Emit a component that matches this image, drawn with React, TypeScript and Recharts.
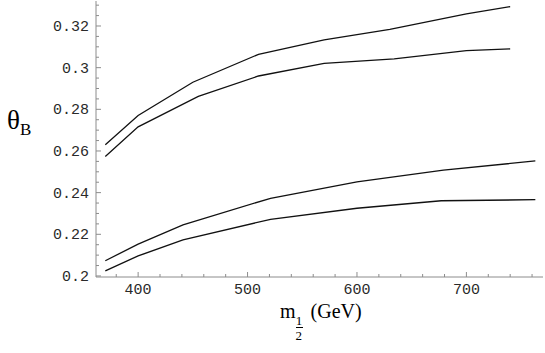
import { LineChart, Line, XAxis, YAxis } from 'recharts'

// m_1/2 (GeV) positions and theta_B values for the four curves
const xUpperA = [370, 400, 450, 510, 570, 630, 700, 740]
const thetaUpperA = [0.263, 0.277, 0.293, 0.3064, 0.3133, 0.3184, 0.3258, 0.3293]

const xUpperB = [370, 400, 455, 510, 570, 634, 700, 740]
const thetaUpperB = [0.2573, 0.2716, 0.2862, 0.296, 0.3021, 0.3042, 0.3082, 0.309]

const xLowerA = [370, 400, 441, 521, 600, 679, 763]
const thetaLowerA = [0.2073, 0.2153, 0.2245, 0.2373, 0.2452, 0.2508, 0.2552]

const xLowerB = [370, 400, 441, 521, 600, 677, 763]
const thetaLowerB = [0.2024, 0.2096, 0.2173, 0.2272, 0.2325, 0.2361, 0.2366]

const xMajor = [400, 500, 600, 700]
const xMinor = [380, 420, 440, 460, 480, 520, 540, 560, 580, 620, 640, 660, 680, 720, 740, 760]
const yMajor = [0.2, 0.22, 0.24, 0.26, 0.28, 0.3, 0.32]
const yMinor = [0.205, 0.21, 0.215, 0.225, 0.23, 0.235, 0.245, 0.25, 0.255, 0.265, 0.27, 0.275,
  0.285, 0.29, 0.295, 0.305, 0.31, 0.315, 0.325, 0.33]

const toPoints = (xs: number[], ys: number[]) => xs.map((x, i) => ({ x, y: ys[i] }))

const frame = '#8c8c8c'
const mono = '"Liberation Mono", "DejaVu Sans Mono", monospace'
const serif = '"Liberation Serif", "DejaVu Serif", serif'
const isMajor = (v: number, list: number[]) => list.some(m => Math.abs(m - v) < 1e-9)

const BottomTick = (p: any) => {
  const major = isMajor(p.payload.value, xMajor)
  return (
    <g>
      <line x1={p.x} x2={p.x} y1={p.y} y2={p.y - (major ? 5 : 3)} stroke={frame} />
      {major && (
        <text x={p.x} y={p.y + 17} textAnchor="middle" fontFamily={mono} fontSize={15} fill="#2a2a2a">
          {p.payload.value}
        </text>
      )}
    </g>
  )
}

const TopTick = (p: any) => {
  const major = isMajor(p.payload.value, xMajor)
  return <line x1={p.x} x2={p.x} y1={p.y} y2={p.y + (major ? 5 : 3)} stroke={frame} />
}

const LeftTick = (p: any) => {
  const major = isMajor(p.payload.value, yMajor)
  return (
    <g>
      <line x1={p.x} x2={p.x + (major ? 5 : 3)} y1={p.y} y2={p.y} stroke={frame} />
      {major && (
        <text x={p.x - 7} y={p.y + 5} textAnchor="end" fontFamily={mono} fontSize={15} fill="#2a2a2a">
          {String(p.payload.value)}
        </text>
      )}
    </g>
  )
}

const RightTick = (p: any) => {
  const major = isMajor(p.payload.value, yMajor)
  return <line x1={p.x} x2={p.x - (major ? 5 : 3)} y1={p.y} y2={p.y} stroke={frame} />
}

const xTicks = [...xMajor, ...xMinor].sort((a, b) => a - b)
const yTicks = [...yMajor, ...yMinor].sort((a, b) => a - b)
const xDomain: [number, number] = [361.5, 770]
const yDomain: [number, number] = [0.1995, 0.332]

export default function App() {
  const series = [
    toPoints(xUpperA, thetaUpperA),
    toPoints(xUpperB, thetaUpperB),
    toPoints(xLowerA, thetaLowerA),
    toPoints(xLowerB, thetaLowerB),
  ]
  return (
    <div style={{ position: 'absolute', left: 0, top: 0, width: 545, height: 353, background: '#fff' }}>
      <LineChart width={545} height={353} margin={{ top: 1, right: 2, bottom: 0, left: 0 }}>
        <XAxis xAxisId="b" type="number" dataKey="x" domain={xDomain} allowDataOverflow ticks={xTicks}
          interval={0} height={76} stroke={frame} tickSize={0} tickMargin={0} tick={BottomTick} />
        <XAxis xAxisId="t" orientation="top" type="number" dataKey="x" domain={xDomain} allowDataOverflow
          ticks={xTicks} interval={0} height={0} stroke={frame} tickSize={0} tickMargin={0} tick={TopTick} />
        <YAxis yAxisId="l" type="number" domain={yDomain} allowDataOverflow ticks={yTicks} interval={0}
          width={96} stroke={frame} tickSize={0} tickMargin={0} tick={LeftTick} />
        <YAxis yAxisId="r" orientation="right" type="number" domain={yDomain} allowDataOverflow ticks={yTicks}
          interval={0} width={0} stroke={frame} tickSize={0} tickMargin={0} tick={RightTick} />
        {series.map((d, i) => (
          <Line key={i} data={d} xAxisId="b" yAxisId="l" dataKey="y" type="linear" stroke="#111"
            strokeWidth={1.3} dot={false} isAnimationActive={false} />
        ))}
      </LineChart>
      <div style={{ position: 'absolute', left: 7, top: 107, fontFamily: serif, fontSize: 27, color: '#000', lineHeight: 1 }}>
        θ<span style={{ fontSize: 17, position: 'relative', top: 6 }}>B</span>
      </div>
      <div style={{ position: 'absolute', left: 280, top: 301, fontFamily: serif, fontSize: 20, color: '#000', lineHeight: 1, display: 'flex', alignItems: 'flex-start' }}>
        <span>m</span>
        <span style={{ display: 'inline-flex', flexDirection: 'column', alignItems: 'center', fontSize: 13, marginTop: 13, lineHeight: 1 }}>
          <span>1</span>
          <span style={{ borderTop: '1px solid #000', width: 7, paddingTop: 1 }}>2</span>
        </span>
        <span style={{ marginLeft: 8 }}>(GeV)</span>
      </div>
    </div>
  )
}
